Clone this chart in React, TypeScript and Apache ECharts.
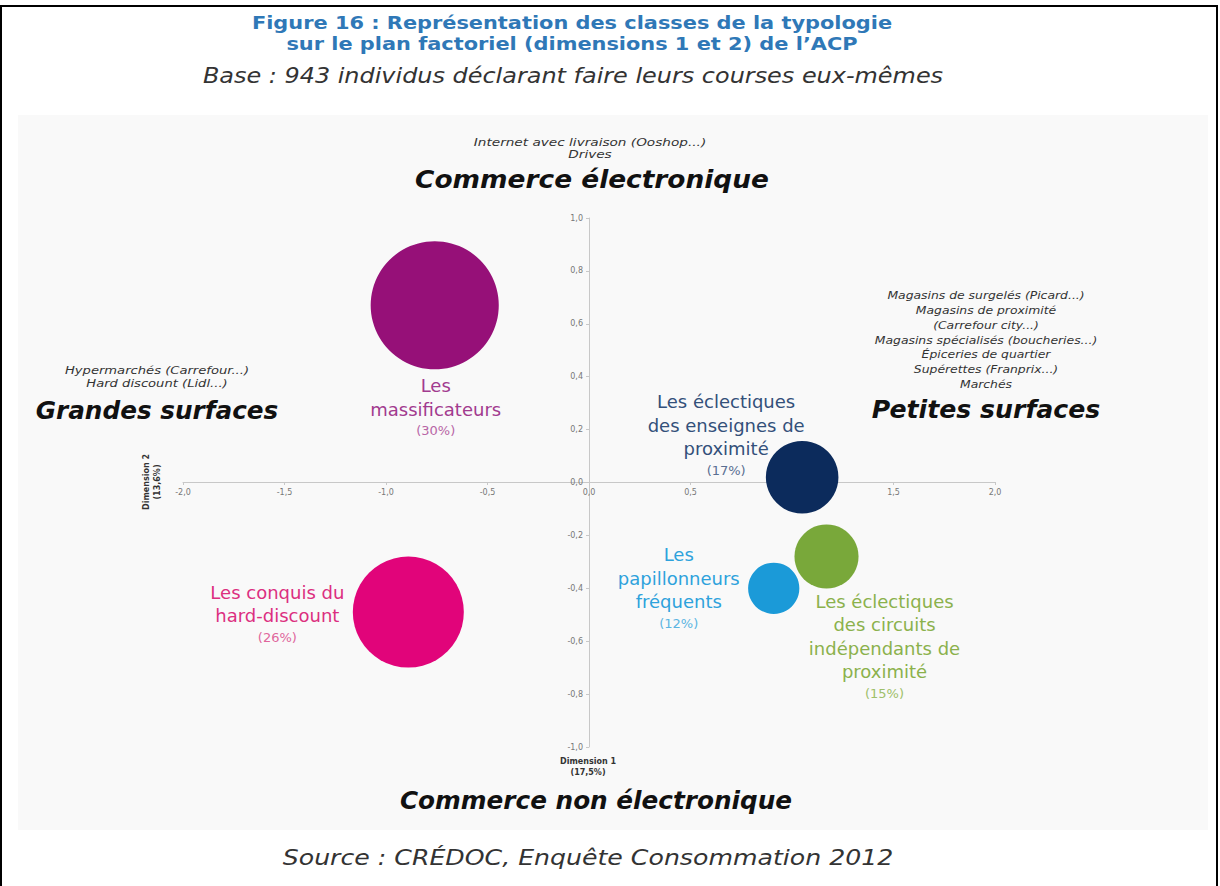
import React, { useEffect, useRef } from "react";
import * as echarts from "echarts";

// ---- Data ----
const classNames = [
  "Les\nmassificateurs",
  "Les conquis du\nhard-discount",
  "Les éclectiques\ndes enseignes de\nproximité",
  "Les\npapillonneurs\nfréquents",
  "Les éclectiques\ndes circuits\nindépendants de\nproximité",
];
const dim1Values = [-0.76, -0.89, 1.05, 0.91, 1.17];
const dim2Values = [0.67, -0.49, 0.02, -0.4, -0.28];
const shareValues = [30, 26, 17, 12, 15];

const xTicks = { min: -2, max: 2, interval: 0.5 };
const yTicks = { min: -1, max: 1, interval: 0.2 };

const bubbleColors = ["#961078", "#e1047a", "#0c2b5c", "#1b9ad8", "#79a83a"];
const labelColors = ["#a23b8f", "#dc2f80", "#33507a", "#2ea2dc", "#8bb14c"];
const pctColors = ["#b866a6", "#e0669c", "#5a6f92", "#5cb5e2", "#9fc06a"];
const labelOffsets: [number, number][] = [
  [1, 102],
  [-131, 2],
  [-76, -42],
  [-95, 0],
  [58, 90],
];

const fmt = (v: number) => v.toFixed(1).replace(".", ",");

export default function App() {
  const ref = useRef<HTMLDivElement>(null);
  useEffect(() => {
    if (!ref.current) return;
    const chart = echarts.init(ref.current, null, { renderer: "svg" });
    const font = "DejaVu Sans, Verdana, sans-serif";

    const data = classNames.map((n, i) => ({
      value: [dim1Values[i], dim2Values[i], shareValues[i]],
      name: n,
      itemStyle: { color: bubbleColors[i], opacity: 1 },
      label: {
        show: true,
        position: "inside",
        offset: labelOffsets[i],
        align: "center",
        verticalAlign: "middle",
        formatter: () => `{n|${n}}\n{p|(${shareValues[i]}%)}`,
        rich: {
          n: { fontSize: 18, lineHeight: 23.5, color: labelColors[i], fontFamily: font, align: "center" },
          p: { fontSize: 13, lineHeight: 20, color: pctColors[i], fontFamily: font, align: "center" },
        },
      },
    }));

    const smallText = (x: number, y: number, text: string, lh: number, sx: number) => ({
      type: "text",
      x,
      y,
      scaleX: sx,
      style: {
        text,
        fill: "#333",
        font: `italic 10.5px ${font}`,
        textAlign: "center",
        textVerticalAlign: "middle",
        lineHeight: lh,
      },
    });
    const bigText = (x: number, y: number, text: string, sx: number) => ({
      type: "text",
      x,
      y,
      scaleX: sx,
      style: {
        text,
        fill: "#111",
        font: `italic bold 24px ${font}`,
        textAlign: "center",
        textVerticalAlign: "middle",
      },
    });

    chart.setOption({
      animation: false,
      backgroundColor: "#ffffff",
      graphic: [
        {
          type: "rect",
          z: -10,
          shape: { x: 18, y: 115, width: 1190, height: 715 },
          style: { fill: "#f9f9f9" },
        },
        {
          type: "rect",
          z: -10,
          shape: { x: 1, y: 6, width: 1216, height: 900 },
          style: { fill: "none", stroke: "#000", lineWidth: 2 },
        },
        {
          type: "text",
          x: 572,
          y: 33,
          scaleX: 1.16,
          style: {
            text: "Figure 16 : Représentation des classes de la typologie\nsur le plan factoriel (dimensions 1 et 2) de l’ACP",
            fill: "#2f78b7",
            font: `bold 18px ${font}`,
            textAlign: "center",
            textVerticalAlign: "middle",
            lineHeight: 21,
          },
        },
        {
          type: "text",
          x: 573,
          y: 76,
          scaleX: 1.14,
          style: {
            text: "Base : 943 individus déclarant faire leurs courses eux-mêmes",
            fill: "#333",
            font: `italic 21px ${font}`,
            textAlign: "center",
            textVerticalAlign: "middle",
          },
        },
        smallText(590, 149, "Internet avec livraison (Ooshop...)\nDrives", 12, 1.3),
        bigText(592, 180, "Commerce électronique", 1.1),
        smallText(157, 377, "Hypermarchés (Carrefour...)\nHard discount (Lidl...)", 13, 1.25),
        bigText(157, 411, "Grandes surfaces", 1.03),
        smallText(
          986,
          340,
          "Magasins de surgelés (Picard...)\nMagasins de proximité\n(Carrefour city...)\nMagasins spécialisés (boucheries...)\nÉpiceries de quartier\nSupérettes (Franprix...)\nMarchés",
          14.8,
          1.18
        ),
        bigText(986, 410, "Petites surfaces", 1.05),
        bigText(596, 801, "Commerce non électronique", 1.03),
        {
          type: "text",
          x: 588,
          y: 857,
          scaleX: 1.2,
          style: {
            text: "Source : CRÉDOC, Enquête Consommation 2012",
            fill: "#333",
            font: `italic 21px ${font}`,
            textAlign: "center",
            textVerticalAlign: "middle",
          },
        },
        {
          type: "text",
          x: 588,
          y: 767,
          style: {
            text: "Dimension 1\n(17,5%)",
            fill: "#333",
            font: `bold 8px ${font}`,
            textAlign: "center",
            textVerticalAlign: "middle",
            lineHeight: 11,
          },
        },
        {
          type: "text",
          x: 152,
          y: 482,
          rotation: Math.PI / 2,
          style: {
            text: "Dimension 2\n(13,6%)",
            fill: "#333",
            font: `bold 8px ${font}`,
            textAlign: "center",
            textVerticalAlign: "middle",
            lineHeight: 11,
          },
        },
      ],
      grid: { left: 183, right: 225, top: 218, bottom: 139 },
      xAxis: {
        type: "value",
        min: xTicks.min,
        max: xTicks.max,
        interval: xTicks.interval,
        position: "bottom",
        offset: -265,
        splitLine: { show: false },
        axisLine: { onZero: false, lineStyle: { color: "#c8c8c8" } },
        axisTick: { show: true, length: 3, lineStyle: { color: "#c8c8c8" } },
        axisLabel: { formatter: fmt, fontSize: 8, color: "#777", fontFamily: font, margin: 6 },
      },
      yAxis: {
        type: "value",
        min: yTicks.min,
        max: yTicks.max,
        interval: yTicks.interval,
        position: "left",
        offset: -406,
        splitLine: { show: false },
        axisLine: { onZero: false, lineStyle: { color: "#c8c8c8" } },
        axisTick: { show: true, length: 3, lineStyle: { color: "#c8c8c8" } },
        axisLabel: { formatter: fmt, fontSize: 8, color: "#777", fontFamily: font, margin: 6 },
      },
      series: [
        {
          type: "scatter",
          data,
          symbolSize: (val: number[]) => val[2] * 4.27,
          z: 3,
        },
      ],
    });
    return () => chart.dispose();
  }, []);
  return (
    <div
      ref={ref}
      style={{ position: "absolute", left: 0, top: 0, width: 1220, height: 886 }}
    />
  );
}
